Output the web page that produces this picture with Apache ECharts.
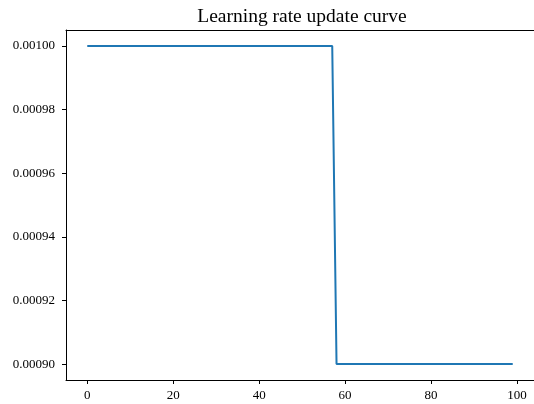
<!DOCTYPE html>
<html>
<head>
<meta charset="utf-8">
<script src="https://cdn.jsdelivr.net/npm/echarts@6/dist/echarts.min.js"></script>
<style>html,body{margin:0;padding:0;background:#fff;}#c{width:534px;height:404px;}</style>
</head>
<body>
<div id="c"></div>
<script>
var epochs = [];
for (var i = 0; i < 100; i++) epochs.push(i);
var lr = [
0.001,0.001,0.001,0.001,0.001,0.001,0.001,0.001,0.001,0.001,
0.001,0.001,0.001,0.001,0.001,0.001,0.001,0.001,0.001,0.001,
0.001,0.001,0.001,0.001,0.001,0.001,0.001,0.001,0.001,0.001,
0.001,0.001,0.001,0.001,0.001,0.001,0.001,0.001,0.001,0.001,
0.001,0.001,0.001,0.001,0.001,0.001,0.001,0.001,0.001,0.001,
0.001,0.001,0.001,0.001,0.001,0.001,0.001,0.001,0.0009,0.0009,
0.0009,0.0009,0.0009,0.0009,0.0009,0.0009,0.0009,0.0009,0.0009,0.0009,
0.0009,0.0009,0.0009,0.0009,0.0009,0.0009,0.0009,0.0009,0.0009,0.0009,
0.0009,0.0009,0.0009,0.0009,0.0009,0.0009,0.0009,0.0009,0.0009,0.0009,
0.0009,0.0009,0.0009,0.0009,0.0009,0.0009,0.0009,0.0009,0.0009,0.0009
];
var xTicks = [0, 20, 40, 60, 80, 100];
var yTicks = [0.0009, 0.00092, 0.00094, 0.00096, 0.00098, 0.001];
var titleText = 'Learning rate update curve';

var font = '"Liberation Serif", "Times New Roman", serif';
var chart = echarts.init(document.getElementById('c'));
var data = epochs.map(function (e, i) { return [e, lr[i]]; });
chart.setOption({
  animation: false,
  backgroundColor: '#fff',
  title: {
    text: titleText,
    left: 297, top: 2, textAlign: 'center',
    textStyle: { fontFamily: font, fontSize: 19.5, fontWeight: 'normal', color: '#000' }
  },
  grid: { left: 66, top: 30, right: 0, bottom: 24, show: false, containLabel: false },
  xAxis: [{
    type: 'value', min: -4.95, max: 103.95,
    axisLine: { show: true, onZero: false, lineStyle: { color: '#000', width: 1 } },
    axisTick: { show: true, customValues: xTicks, length: 4, lineStyle: { color: '#000' } },
    axisLabel: { customValues: xTicks, margin: 9, fontFamily: font, fontSize: 13, color: '#000' },
    splitLine: { show: false }
  }, {
    type: 'value', min: -4.95, max: 103.95, position: 'top',
    axisLine: { show: true, onZero: false, lineStyle: { color: '#000', width: 1 } },
    axisTick: { show: false }, axisLabel: { show: false }, splitLine: { show: false }
  }],
  yAxis: {
    type: 'value', min: 0.000895, max: 0.001005,
    axisLine: { show: true, onZero: false, lineStyle: { color: '#000', width: 1 } },
    axisTick: { show: true, customValues: yTicks, length: 4, lineStyle: { color: '#000' } },
    axisLabel: { customValues: yTicks, margin: 11, fontFamily: font, fontSize: 13, color: '#000',
      formatter: function (v) { return v.toFixed(5); } },
    splitLine: { show: false }
  },
  series: [{
    type: 'line', data: data, showSymbol: false, symbol: 'none',
    lineStyle: { color: '#1f77b4', width: 2 }
  }]
});
</script>
</body>
</html>
